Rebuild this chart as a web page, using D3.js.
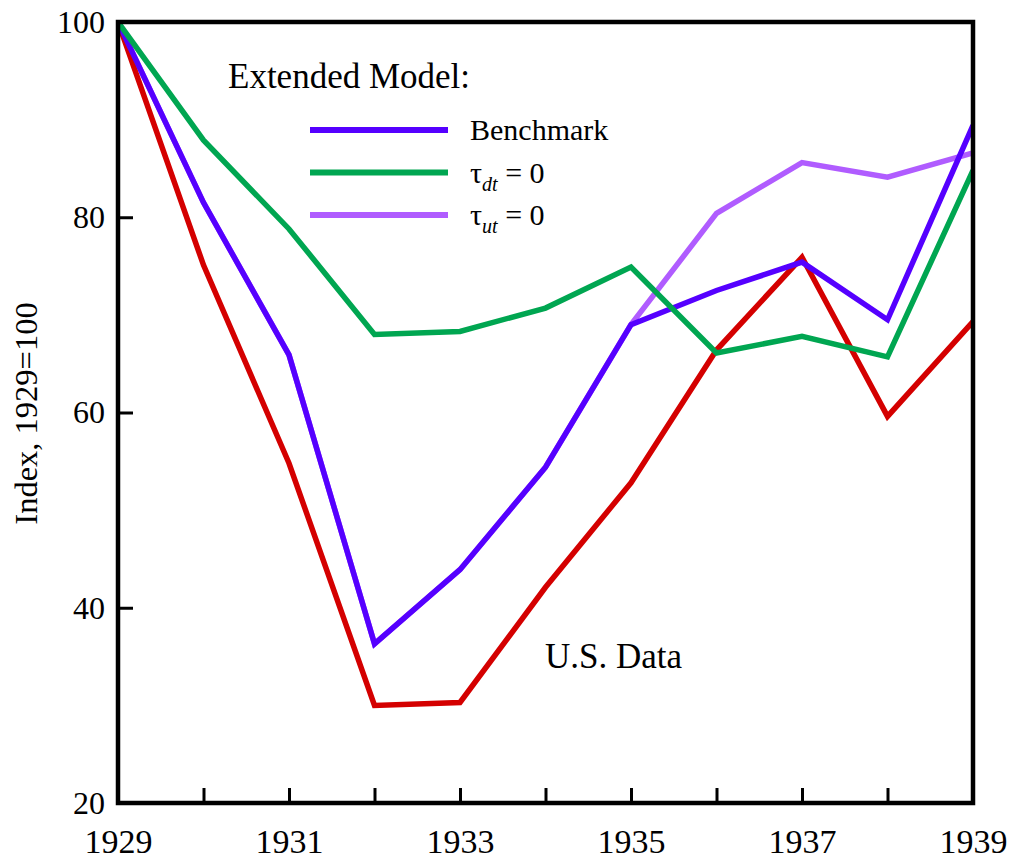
<!DOCTYPE html>
<html>
<head>
<meta charset="utf-8">
<script src="https://cdn.jsdelivr.net/npm/d3@7"></script>
<style>
  body { margin: 0; background: #fff; }
</style>
</head>
<body>
<div id="chart"></div>
<script>
"use strict";

// data
var years = [1929, 1930, 1931, 1932, 1933, 1934, 1935, 1936, 1937, 1938, 1939];
var usData    = [100, 75.1, 54.8, 30.0, 30.3, 42.1, 52.8, 66.4, 75.9, 59.6, 69.3];
var benchmark = [100, 81.5, 65.9, 36.3, 43.9, 54.4, 69.0, 72.5, 75.4, 69.5, 89.4];
var tauDt     = [100, 87.9, 78.8, 68.0, 68.3, 70.7, 74.9, 66.1, 67.8, 65.7, 84.8];
var tauUt     = [100, 81.5, 65.9, 36.3, 43.9, 54.4, 69.0, 80.4, 85.6, 84.1, 86.6];
var xTickLabels = [1929, 1931, 1933, 1935, 1937, 1939];
var yTicks = [20, 40, 60, 80, 100];

var serif = "'Liberation Serif', 'Times New Roman', Times, serif";

// set the dimensions and margins of the graph
var margin = {top: 22, right: 41, bottom: 60, left: 118},
  width = 1014 - margin.left - margin.right,
  height = 863 - margin.top - margin.bottom;

var svg = d3.select("#chart")
.append("svg")
  .attr("width", width + margin.left + margin.right)
  .attr("height", height + margin.top + margin.bottom)
  .style("font-family", serif)
.append("g")
  .attr("transform", "translate(" + margin.left + "," + margin.top + ")");

var x = d3.scaleLinear().domain([1929, 1939]).range([0, width]);
var y = d3.scaleLinear().domain([20, 100]).range([height, 0]);

// series, drawn in this order
var series = [
  {name: "tauUt", values: tauUt, color: "#b05cff"},
  {name: "us", values: usData, color: "#d40000"},
  {name: "benchmark", values: benchmark, color: "#5500ff"},
  {name: "tauDt", values: tauDt, color: "#00a651"}
];

var line = d3.line()
  .x(function(d, i) { return x(years[i]); })
  .y(function(d) { return y(d); });

svg.append("defs").append("clipPath").attr("id", "clip")
  .append("rect").attr("width", width).attr("height", height);

svg.append("g")
  .attr("clip-path", "url(#clip)")
  .selectAll("path")
  .data(series)
  .enter()
  .append("path")
    .attr("d", function(d) { return line(d.values); })
    .attr("fill", "none")
    .attr("stroke", function(d) { return d.color; })
    .attr("stroke-width", 5.5)
    .attr("stroke-linejoin", "miter");

// box
svg.append("rect")
  .attr("width", width)
  .attr("height", height)
  .attr("fill", "none")
  .attr("stroke", "#000")
  .attr("stroke-width", 4.5);

// x axis: inward ticks each year, labels every other year
var xAxis = svg.append("g")
  .attr("transform", "translate(0," + height + ")")
  .call(d3.axisBottom(x)
    .tickValues(years)
    .tickSizeInner(-15)
    .tickSizeOuter(0)
    .tickPadding(26)
    .tickFormat(function(d) { return xTickLabels.indexOf(d) >= 0 ? d : ""; }));
xAxis.select(".domain").remove();
xAxis.selectAll("line").attr("stroke", "#000").attr("stroke-width", 3);
xAxis.selectAll("text")
  .style("font-family", serif)
  .style("font-size", "34px")
  .attr("fill", "#000");

// y axis
var yAxis = svg.append("g")
  .call(d3.axisLeft(y)
    .tickValues(yTicks)
    .tickSizeInner(-15)
    .tickSizeOuter(0)
    .tickPadding(13));
yAxis.select(".domain").remove();
yAxis.selectAll("line").attr("stroke", "#000").attr("stroke-width", 3);
yAxis.selectAll("text")
  .style("font-family", serif)
  .style("font-size", "32px")
  .attr("fill", "#000");

// y label
svg.append("text")
  .attr("transform", "translate(" + (-81) + "," + (height / 2 + 1) + ") rotate(-90)")
  .attr("text-anchor", "middle")
  .style("font-family", serif)
  .style("font-size", "32.5px")
  .text("Index, 1929=100");

// legend
svg.append("text")
  .attr("x", 110)
  .attr("y", 66)
  .style("font-family", serif)
  .style("font-size", "35px")
  .text("Extended Model:");

var legendItems = [
  {color: "#5500ff", main: "Benchmark", sub: null},
  {color: "#00a651", main: "\u03c4", sub: "dt"},
  {color: "#b05cff", main: "\u03c4", sub: "ut"}
];

var legend = svg.selectAll(".legend")
  .data(legendItems)
  .enter()
  .append("g")
    .attr("class", "legend")
    .attr("transform", function(d, i) { return "translate(192," + (108 + i * 42.5) + ")"; });

legend.append("line")
  .attr("x1", 0)
  .attr("x2", 138)
  .attr("stroke", function(d) { return d.color; })
  .attr("stroke-width", 6);

var legendText = legend.append("text")
  .attr("x", 160)
  .attr("y", 10)
  .style("font-family", serif)
  .style("font-size", "30px");

legendText.append("tspan").text(function(d) { return d.main; });
legendText.filter(function(d) { return d.sub; })
  .append("tspan")
    .attr("dy", 8)
    .style("font-size", "20px")
    .style("font-style", "italic")
    .text(function(d) { return d.sub; });
legendText.filter(function(d) { return d.sub; })
  .append("tspan")
    .attr("dy", -8)
    .text(" = 0");

svg.append("text")
  .attr("x", 427)
  .attr("y", 646)
  .style("font-family", serif)
  .style("font-size", "35px")
  .text("U.S. Data");
</script>
</body>
</html>
